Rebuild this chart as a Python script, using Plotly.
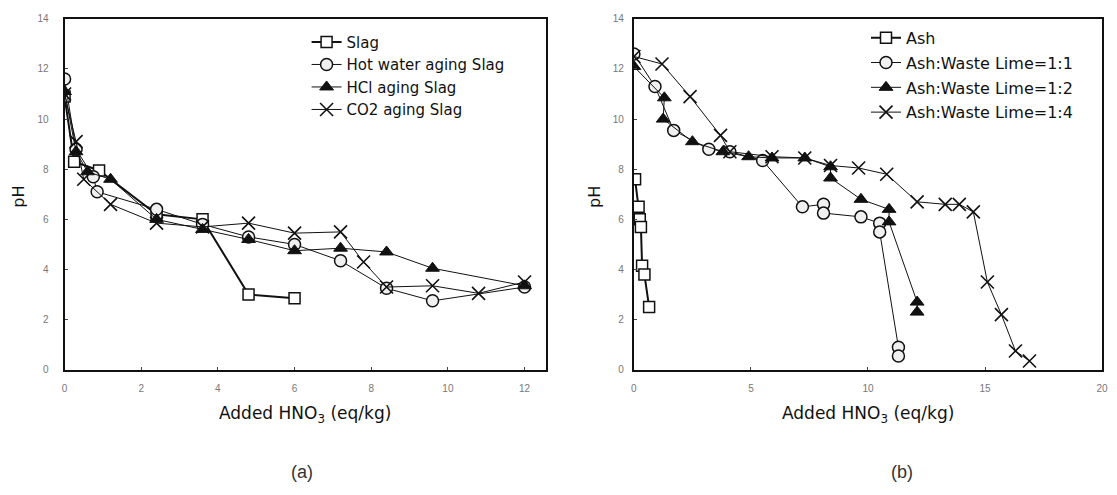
import plotly.graph_objects as go

# ---------------- data (a) ----------------
slag_x = [0, 0.25, 0.9, 2.4, 3.6, 4.8, 6.0]
slag_y = [10.9, 8.3, 7.95, 6.2, 6.0, 3.0, 2.85]

hot_x = [0, 0.3, 0.75, 0.85, 2.4, 3.6, 4.8, 6.0, 7.2, 8.4, 9.6, 12.0]
hot_y = [11.6, 8.8, 7.7, 7.1, 6.4, 5.8, 5.3, 5.0, 4.35, 3.25, 2.75, 3.3]

hcl_x = [0, 0.3, 0.6, 1.2, 2.4, 3.6, 4.8, 6.0, 7.2, 8.4, 9.6, 12.0]
hcl_y = [11.1, 8.7, 7.9, 7.6, 6.0, 5.6, 5.2, 4.75, 4.85, 4.7, 4.05, 3.35]

co2_x = [0, 0.3, 0.5, 1.2, 2.4, 3.6, 4.8, 6.0, 7.2, 7.8, 8.4, 9.6, 10.8, 12.0]
co2_y = [11.0, 9.1, 7.6, 6.6, 5.85, 5.7, 5.85, 5.45, 5.5, 4.3, 3.3, 3.35, 3.05, 3.5]

# ---------------- data (b) ----------------
ash_x = [0.05, 0.2, 0.25, 0.3, 0.35, 0.45, 0.65]
ash_y = [7.6, 6.5, 6.0, 5.7, 4.15, 3.8, 2.5]

w11_x = [0, 0.9, 1.7, 3.2, 4.1, 5.5, 7.2, 8.1, 8.1, 9.7, 10.5, 10.5, 11.3, 11.3]
w11_y = [12.6, 11.3, 9.55, 8.8, 8.7, 8.35, 6.5, 6.6, 6.25, 6.1, 5.85, 5.5, 0.9, 0.55]

w12_x = [0, 1.3, 1.25, 2.5, 3.8, 4.9, 5.9, 7.3, 8.4, 8.4, 9.7, 10.9, 10.9, 12.1, 12.1]
w12_y = [12.1, 10.85, 10.0, 9.1, 8.7, 8.5, 8.45, 8.45, 8.1, 7.65, 6.8, 6.4, 5.9, 2.7, 2.3]

w14_x = [0, 1.2, 2.4, 3.7, 4.1, 5.9, 7.3, 8.4, 9.6, 10.8, 12.1, 13.3, 13.9, 14.5, 15.1, 15.7, 16.3, 16.9]
w14_y = [12.5, 12.2, 10.9, 9.35, 8.7, 8.5, 8.45, 8.15, 8.05, 7.8, 6.7, 6.6, 6.6, 6.3, 3.5, 2.2, 0.75, 0.35]

left_ticks = [0, 2, 4, 6, 8, 10, 12]
right_ticks = [0, 5, 10, 15, 20]
y_ticks = [0, 2, 4, 6, 8, 10, 12, 14]

names_a = ["Slag", "Hot water aging Slag", "HCl aging Slag", "CO2 aging Slag"]
names_b = ["Ash", "Ash:Waste Lime=1:1", "Ash:Waste Lime=1:2", "Ash:Waste Lime=1:4"]

BLACK = "#111111"
FONT = "DejaVu Sans, Arial, sans-serif"
TICKFONT = "Liberation Sans, Arial, sans-serif"

# page body has an 8px default margin; layout below is given in page pixels
OFF = 8
W, H = 1117 - OFF, 495 - OFF
def px(p):
    return (p - OFF) / W
def py(p):
    return 1 - (p - OFF) / H

def styles():
    return [
        dict(mode="lines+markers", line=dict(color=BLACK, width=2),
             marker=dict(symbol="square", size=11, color="white", line=dict(color=BLACK, width=1.5))),
        dict(mode="lines+markers", line=dict(color=BLACK, width=1),
             marker=dict(symbol="circle", size=12, color="#f0f0f0", line=dict(color=BLACK, width=1.5))),
        dict(mode="lines+markers", line=dict(color=BLACK, width=1),
             marker=dict(symbol="triangle-up", size=12, color=BLACK, line=dict(color=BLACK, width=1))),
        dict(mode="lines+markers", line=dict(color=BLACK, width=1),
             marker=dict(symbol="x-thin-open", size=13, color=BLACK, line=dict(color=BLACK, width=1.6))),
    ]

fig = go.Figure()

sa = styles()
for i, (xs, ys) in enumerate([(slag_x, slag_y), (hot_x, hot_y), (hcl_x, hcl_y), (co2_x, co2_y)]):
    fig.add_trace(go.Scatter(x=xs, y=ys, name=names_a[i], xaxis="x", yaxis="y",
                             legend="legend", legendgroup="a%d" % i, **sa[i]))

sb = styles()
for i, (xs, ys) in enumerate([(ash_x, ash_y), (w11_x, w11_y), (w12_x, w12_y), (w14_x, w14_y)]):
    fig.add_trace(go.Scatter(x=xs, y=ys, name=names_b[i], xaxis="x2", yaxis="y2",
                             legend="legend2", legendgroup="b%d" % i, **sb[i]))

yd = [py(373), py(14)]

axis_common = dict(showline=True, linecolor=BLACK, linewidth=2, mirror=True,
                   showgrid=False, zeroline=False, ticks="inside", ticklen=3,
                   tickcolor="#444", tickfont=dict(size=10, color="#777", family=TICKFONT))

fig.update_layout(
    width=W, height=H,
    margin=dict(l=0, r=0, t=0, b=0),
    plot_bgcolor="white", paper_bgcolor="white",
    font=dict(family=FONT, color=BLACK),
    xaxis=dict(domain=[px(62), px(547)], range=[0, 12.55], tickvals=left_ticks,
               anchor="y", ticklabelstandoff=8, **axis_common),
    yaxis=dict(domain=yd, range=[0, 14], tickvals=y_ticks, anchor="x",
               ticklabelstandoff=12, **axis_common),
    xaxis2=dict(domain=[px(636), px(1108)], range=[0, 20], tickvals=right_ticks,
                anchor="y2", ticklabelstandoff=8, **axis_common),
    yaxis2=dict(domain=yd, range=[0, 14], tickvals=y_ticks, anchor="x2",
                ticklabelstandoff=6, **axis_common),
    legend=dict(x=px(306), y=py(21), xanchor="left", yanchor="top",
                bgcolor="rgba(0,0,0,0)", font=dict(size=15, color=BLACK, family=FONT),
                traceorder="grouped", tracegroupgap=0, itemwidth=30),
    legend2=dict(x=px(870), y=py(16), xanchor="left", yanchor="top",
                 bgcolor="rgba(0,0,0,0)", font=dict(size=16, color=BLACK, family=FONT),
                 traceorder="grouped", tracegroupgap=1, itemwidth=30),
)

for xc in [(62 + 547) / 2, (636 + 1108) / 2]:
    fig.add_annotation(xref="paper", yref="paper", x=px(xc), y=py(419),
                       text="Added HNO<sub>3</sub> (eq/kg)", showarrow=False,
                       xanchor="center", yanchor="middle",
                       font=dict(size=17, color=BLACK, family=FONT))
for xc, lab in [(301, "(a)"), (906, "(b)")]:
    fig.add_annotation(xref="paper", yref="paper", x=px(xc), y=py(478), text=lab,
                       showarrow=False, xanchor="center", yanchor="middle",
                       font=dict(size=18, color="#333", family=TICKFONT))
for xp in [16, 597]:
    fig.add_annotation(xref="paper", yref="paper", x=px(xp), y=py(196), text="pH",
                       showarrow=False, textangle=-90, xanchor="center", yanchor="middle",
                       font=dict(size=16, color=BLACK, family=FONT))

fig.write_html("out.html")
